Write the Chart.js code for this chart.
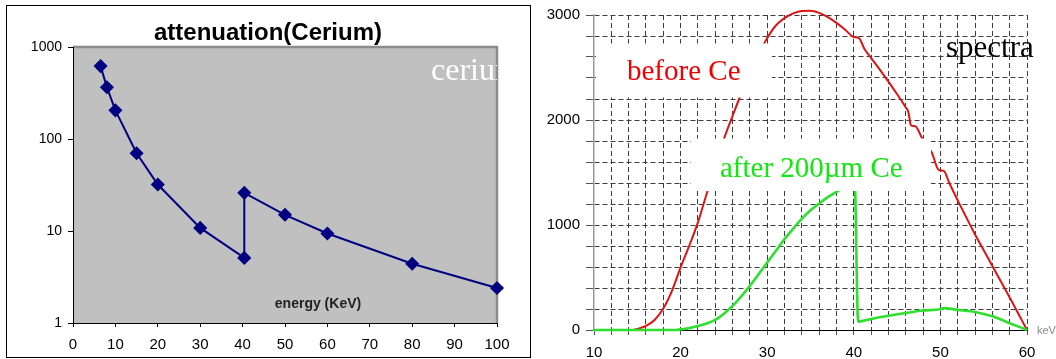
<!DOCTYPE html>
<html>
<head>
<meta charset="utf-8">
<script src="https://cdn.jsdelivr.net/npm/chart.js@4/dist/chart.umd.min.js"></script>
<style>
    body { margin: 0; background: #fff; }
    #wrap { position: relative; width: 1056px; height: 359px; overflow: hidden; }
    #attCanvas { position: absolute; left: 0; top: 0; }
    #specCanvas { position: absolute; left: 531px; top: 0; }
    #frame {
        position: absolute; left: 6px; top: 5px; width: 525px; height: 353px;
        box-sizing: border-box; border: 1px solid #000; pointer-events: none;
    }
</style>
</head>
<body>
<div id="wrap">
    <canvas id="attCanvas" width="531" height="359"></canvas>
    <canvas id="specCanvas" width="525" height="359"></canvas>
    <div id="frame"></div>
</div>
<script>
/* ======================================
   DATA - attenuation(Cerium)
====================================== */
const attEnergy = [6.5, 8, 10, 15, 20, 30, 40.4, 40.4, 50, 60, 80, 100];
const attValue  = [620, 365, 205, 70, 32, 10.8, 5.1, 26, 15, 9.4, 4.4, 2.4];
const attYTicks = [1, 10, 100, 1000];

/* ======================================
   DATA - spectra (keV / counts)
====================================== */
const beforeKeV = [14.5, 15, 16, 17, 18, 19, 20, 21, 22, 23, 24, 25, 26, 27, 28, 29, 30,
    31, 32, 33, 34, 35, 36, 37, 38, 39, 40, 40.6, 41.2, 42, 43, 44, 45, 46, 46.3, 46.6, 47.1,
    47.9, 49, 49.8, 50.4, 51, 52, 53, 54, 55, 56, 57, 58, 59, 60];
const beforeCounts = [0, 10, 40, 96, 204, 373, 596, 803, 1025, 1296, 1560, 1820, 2040, 2250, 2440, 2620, 2780,
    2900, 2970, 3015, 3038, 3040, 3020, 2980, 2925, 2860, 2790, 2780, 2680, 2590, 2480, 2365, 2245, 2120, 2075, 1950, 1940,
    1825, 1690, 1525, 1515, 1405, 1235, 1070, 910, 760, 610, 460, 310, 155, 0];

const afterKeV = [10, 19.5, 20, 21, 22, 23, 24, 25, 26, 27, 28, 29, 30, 31, 32, 33, 34, 35, 36, 37, 38, 39,
    40.1, 40.5, 42, 44, 46, 48, 50, 50.4, 52, 54, 56, 58, 60];
const afterCounts = [0, 0, 6, 18, 38, 62, 96, 155, 229, 320, 420, 530, 643, 755, 866, 965, 1060, 1140, 1204, 1265, 1316, 1360,
    1400, 80, 105, 135, 162, 185, 198, 208, 192, 172, 130, 65, 0];

Chart.defaults.font.family = '"Liberation Sans", Arial, sans-serif';
Chart.defaults.color = '#000';

const SERIF = '"Liberation Serif", "Times New Roman", serif';

/* ======================================
   PLOT BACKGROUND + LABELS (left)
====================================== */
const attPanel = {
    id: 'attPanel',
    beforeDraw(chart) {
        const { ctx, chartArea: a } = chart;
        ctx.save();
        ctx.fillStyle = '#000';
        ctx.font = 'bold 24px "Liberation Sans", Arial, sans-serif';
        ctx.textAlign = 'center';
        ctx.fillText('attenuation(Cerium)', 268, 40);
        ctx.textAlign = 'left';

        ctx.fillStyle = '#c0c0c0';
        ctx.fillRect(a.left, a.top, a.right - a.left, a.bottom - a.top);
        ctx.strokeStyle = '#8c8c8c';
        ctx.lineWidth = 2.5;
        ctx.beginPath();
        ctx.moveTo(a.left, a.top);
        ctx.lineTo(a.right, a.top);
        ctx.lineTo(a.right, a.bottom);
        ctx.stroke();

        // "cerium" is cut off by the plot edge
        ctx.beginPath();
        ctx.rect(a.left, a.top, a.right - a.left, a.bottom - a.top);
        ctx.clip();
        ctx.fillStyle = '#fff';
        ctx.font = '32px ' + SERIF;
        ctx.fillText('cerium', 431, 80);

        ctx.fillStyle = '#222';
        ctx.font = 'bold 14px "Liberation Sans", Arial, sans-serif';
        ctx.textAlign = 'center';
        ctx.fillText('energy (KeV)', 318, 308);
        ctx.restore();
    }
};

new Chart(document.getElementById('attCanvas'), {
    type: 'line',
    data: {
        datasets: [{
            data: attEnergy.map((e, i) => ({ x: e, y: attValue[i] })),
            borderColor: '#000080',
            backgroundColor: '#000080',
            borderWidth: 2,
            pointStyle: 'rectRot',
            pointRadius: 6,
            pointBorderWidth: 1.5,
            tension: 0,
            clip: 10
        }]
    },
    options: {
        responsive: false,
        animation: false,
        layout: { padding: { top: 47, right: 34, left: 0, bottom: 0 } },
        plugins: {
            legend: { display: false },
            tooltip: { enabled: false }
        },
        scales: {
            x: {
                type: 'linear', min: 0, max: 100,
                ticks: { stepSize: 10, font: { size: 15 }, padding: 9, color: '#000' },
                grid: { drawOnChartArea: false, tickLength: 4, color: '#000' },
                border: { color: '#000', width: 1 },
                afterFit: s => { s.height = 36; }
            },
            y: {
                type: 'logarithmic', min: 1, max: 1000,
                afterBuildTicks: s => { s.ticks = attYTicks.map(v => ({ value: v })); },
                ticks: { font: { size: 14 }, padding: 6, color: '#000', callback: v => String(v) },
                grid: { drawOnChartArea: false, tickLength: 5, color: '#000' },
                border: { color: '#000', width: 1 },
                afterFit: s => { s.width = 73; }
            }
        }
    },
    plugins: [attPanel]
});

/* ======================================
   SPECTRA NOTES (right)
====================================== */
const specNotes = {
    id: 'specNotes',
    afterDatasetsDraw(chart) {
        const { ctx } = chart;
        ctx.save();
        ctx.fillStyle = '#fff';
        ctx.fillRect(65, 43.5, 176, 54);
        ctx.fillRect(160, 138.5, 240, 52.5);

        ctx.font = '29px ' + SERIF;
        ctx.fillStyle = '#f00000';
        ctx.fillText('before Ce', 96, 80);
        ctx.fillStyle = '#10e810';
        ctx.fillText('after 200\u00b5m Ce', 189, 177);

        ctx.fillStyle = '#000';
        ctx.font = '31px ' + SERIF;
        ctx.fillText('spectra', 415, 57);

        ctx.fillStyle = '#888';
        ctx.font = '11px "Liberation Sans", Arial, sans-serif';
        ctx.textBaseline = 'middle';
        ctx.fillText('keV', 506, 331);
        ctx.restore();
    }
};

new Chart(document.getElementById('specCanvas'), {
    type: 'line',
    data: {
        datasets: [{
            label: 'after 200\u00b5m Ce',
            data: afterKeV.map((e, i) => ({ x: e, y: afterCounts[i] })),
            borderColor: '#2ee02e',
            borderWidth: 2.6,
            pointRadius: 0,
            cubicInterpolationMode: 'monotone',
            clip: 8,
            order: 0
        }, {
            label: 'before Ce',
            data: beforeKeV.map((e, i) => ({ x: e, y: beforeCounts[i] })),
            borderColor: '#dd1414',
            borderWidth: 2,
            pointRadius: 0,
            cubicInterpolationMode: 'monotone',
            clip: 8,
            order: 1
        }]
    },
    options: {
        responsive: false,
        animation: false,
        layout: { padding: { top: 15, right: 29, left: 0, bottom: 0 } },
        plugins: {
            legend: { display: false },
            tooltip: { enabled: false }
        },
        scales: {
            x: {
                type: 'linear', min: 10, max: 60,
                ticks: {
                    stepSize: 2, font: { size: 15 }, padding: 9, color: '#000',
                    autoSkip: false, maxRotation: 0,
                    callback: v => (v % 10 === 0 ? String(v) : '')
                },
                grid: {
                    color: c => (c.tick && c.tick.value === 10 ? 'rgba(0,0,0,0)' : '#3c3c3c'),
                    tickColor: '#555',
                    tickLength: 5,
                    lineWidth: 1
                },
                border: { color: '#000', width: 1, dash: [5, 3] },
                afterFit: s => { s.height = 29; }
            },
            y: {
                min: 0, max: 3000,
                ticks: {
                    stepSize: 200, font: { size: 15 }, padding: 6, color: '#000',
                    autoSkip: false,
                    callback: v => (v % 1000 === 0 ? String(v) : '')
                },
                grid: {
                    color: c => (c.tick && c.tick.value === 0 ? 'rgba(0,0,0,0)' : '#3c3c3c'),
                    tickColor: '#555',
                    tickLength: 8,
                    lineWidth: 1
                },
                border: { color: '#999', width: 1.5, dash: [5, 3] },
                afterFit: s => { s.width = 63; }
            }
        }
    },
    plugins: [specNotes]
});
</script>
</body>
</html>
